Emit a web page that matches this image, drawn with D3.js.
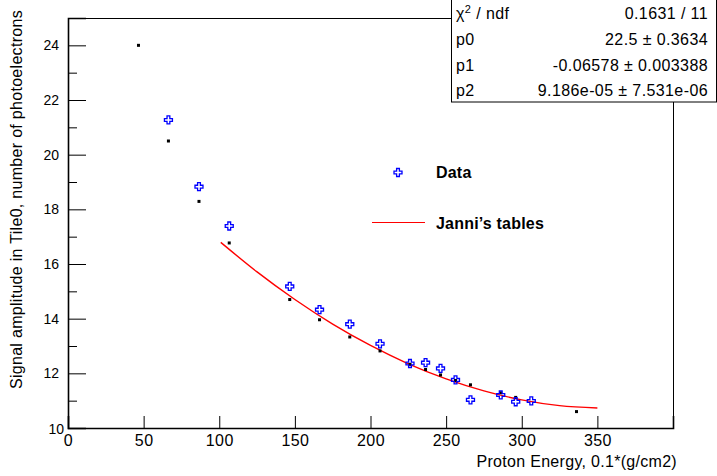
<!DOCTYPE html>
<meta charset="utf-8">
<style>
  body { margin: 0; background: #fff; }
  svg { display: block; font-family: "Liberation Sans", Arial, sans-serif; }
</style>
<svg></svg>

<script src="https://cdn.jsdelivr.net/npm/d3@7"></script>

<script>
//
// DATA
//
var energy    = [66.4, 86.6, 106.6, 146.6, 166.3, 186.3, 206.3, 226.1, 236.4, 246.3, 256.2, 266.1, 286.1, 296.0, 306.3]; // blue open crosses
var amplitude = [21.27, 18.83, 17.39, 15.18, 14.33, 13.80, 13.08, 12.36, 12.39, 12.18, 11.76, 11.03, 11.21, 10.96, 10.99];

var refEnergy    = [46.6, 66.4, 86.6, 106.6, 146.6, 166.3, 186.3, 206.3, 226.1, 236.4, 246.3, 256.2, 266.1, 286.1, 296.0, 336.2]; // small black dots
var refAmplitude = [24.00, 20.50, 18.29, 16.77, 14.70, 13.96, 13.33, 12.82, 12.33, 12.14, 11.94, 11.74, 11.58, 11.29, 11.12, 10.60];

// red fit line (Janni's tables)
var fitEnergy    = [101, 125, 150, 175, 200, 225, 250, 275, 300, 325, 350];
var fitAmplitude = [16.79, 15.71, 14.70, 13.80, 13.02, 12.35, 11.80, 11.36, 11.03, 10.82, 10.73];

var xTicks = [0, 50, 100, 150, 200, 250, 300, 350];
var yTicks = [10, 12, 14, 16, 18, 20, 22, 24];
var yMinorTicks = [11, 13, 15, 17, 19, 21, 23, 25];

// fit statistics box
var statNames  = ["\u03C7\u00B2 / ndf", "p0", "p1", "p2"];
var statValues = ["0.1631 / 11", "22.5 \u00B1 0.3634", "-0.06578 \u00B1 0.003388", "9.186e-05 \u00B1 7.531e-06"];

//
// SVG SETUP
//
var W = 717, H = 476,
    margin = {top: 18, right: 44, bottom: 48, left: 68},
    width = W - margin.left - margin.right,
    height = H - margin.top - margin.bottom;

var svg = d3.select("svg").attr("width", W).attr("height", H);
var g = svg.append("g").attr("transform", "translate(" + margin.left + "," + margin.top + ")");

var x = d3.scaleLinear().domain([0, 400]).range([0, width]);
var y = d3.scaleLinear().domain([10, 25]).range([height, 0]);

// FRAME
g.append("rect")
  .attr("x", 0.5).attr("y", 0.5)
  .attr("width", width).attr("height", height)
  .attr("fill", "none").attr("stroke", "#000").attr("stroke-width", 1);

// AXES
var xAxis = g.append("g")
  .attr("class", "axis axis--x")
  .attr("transform", "translate(0," + height + ")")
  .call(d3.axisBottom(x).tickValues(xTicks).tickSize(-12).tickPadding(4).tickFormat(d3.format("d")));

var yAxis = g.append("g")
  .attr("class", "axis axis--y")
  .call(d3.axisLeft(y).tickValues(yTicks).tickSize(-18).tickPadding(9).tickFormat(d3.format("d")));

g.append("g")
  .call(d3.axisLeft(y).tickValues(yMinorTicks).tickSize(-9).tickFormat(""))
  .call(function(s) { s.select(".domain").remove(); });

g.selectAll(".axis .domain").attr("stroke", "#000").attr("stroke-width", 1.6);
g.selectAll(".tick line").attr("stroke", "#000");
g.selectAll(".axis text")
  .attr("font-family", "Liberation Sans, Arial, sans-serif")
  .attr("fill", "#000");
xAxis.selectAll("text").attr("font-size", 16).attr("letter-spacing", 0.4).attr("dy", "0.9em");
yAxis.selectAll("text").attr("font-size", 14);

// ROOT pushes the lowest y label a bit to the right
yAxis.selectAll(".tick text").filter(function(d) { return d === 10; })
  .attr("dx", 5).attr("dy", "0.4em");

// AXIS TITLES
svg.append("text")
  .attr("x", margin.left + width + 4)
  .attr("y", 467)
  .attr("text-anchor", "end")
  .attr("font-size", 16)
  .attr("letter-spacing", 0.3)
  .text("Proton Energy, 0.1*(g/cm2)");

svg.append("text")
  .attr("transform", "translate(22,10) rotate(-90)")
  .attr("text-anchor", "end")
  .attr("font-size", 16)
  .attr("letter-spacing", 0.3)
  .text("Signal amplitude in Tile0, number of photoelectrons");

// FIT LINE
var line = d3.line()
  .curve(d3.curveNatural)
  .x(function(d) { return x(d[0]); })
  .y(function(d) { return y(d[1]); });

g.append("path")
  .datum(d3.zip(fitEnergy, fitAmplitude))
  .attr("d", line)
  .attr("fill", "none")
  .attr("stroke", "#ff0000")
  .attr("stroke-width", 1.4);

// MARKERS
// open cross (ROOT marker 28)
var crossPath = "M-1.4,-4L1.4,-4L1.4,-1.4L4,-1.4L4,1.4L1.4,1.4L1.4,4L-1.4,4L-1.4,1.4L-4,1.4L-4,-1.4L-1.4,-1.4Z";

g.selectAll(".ref")
  .data(d3.zip(refEnergy, refAmplitude))
  .enter().append("rect")
  .attr("class", "ref")
  .attr("x", function(d) { return x(d[0]) - 1.5; })
  .attr("y", function(d) { return y(d[1]) - 1.5; })
  .attr("width", 3).attr("height", 3)
  .attr("fill", "#000");

g.selectAll(".data")
  .data(d3.zip(energy, amplitude))
  .enter().append("path")
  .attr("class", "data")
  .attr("transform", function(d) { return "translate(" + x(d[0]) + "," + y(d[1]) + ")"; })
  .attr("d", crossPath)
  .attr("fill", "none")
  .attr("stroke", "#0000ff")
  .attr("stroke-width", 1.3);

// LEGEND
var legend = svg.append("g").attr("font-size", 16).attr("font-weight", "bold").attr("letter-spacing", 0.2);
legend.append("path")
  .attr("transform", "translate(398,172.5)")
  .attr("d", crossPath)
  .attr("fill", "none").attr("stroke", "#0000ff").attr("stroke-width", 1.3);
legend.append("text").attr("x", 436).attr("y", 178).text("Data");
legend.append("line")
  .attr("x1", 372).attr("x2", 425).attr("y1", 222.5).attr("y2", 222.5)
  .attr("stroke", "#ff0000").attr("stroke-width", 1.2);
legend.append("text").attr("x", 436).attr("y", 228.5).text("Janni\u2019s tables");

// STATS BOX
var stats = svg.append("g");
stats.append("rect")
  .attr("x", 451.5).attr("y", -1)
  .attr("width", 265).attr("height", 103)
  .attr("fill", "#fff").attr("stroke", "#000").attr("stroke-width", 1);

var rowY = d3.scaleLinear().domain([0, 1]).range([19, 44.8]);
statNames.forEach(function(name, i) {
  var t = stats.append("text")
    .attr("x", 456).attr("y", rowY(i))
    .attr("font-size", 16).attr("letter-spacing", 0.4);
  if (i === 0) {
    t.append("tspan").text("\u03C7");
    t.append("tspan").attr("font-size", 11).attr("dy", -6).text("2");
    t.append("tspan").attr("dy", 6).text(" / ndf");
  } else {
    t.text(name);
  }
  stats.append("text")
    .attr("x", 708).attr("y", rowY(i))
    .attr("text-anchor", "end")
    .attr("font-size", 16).attr("letter-spacing", 0.4)
    .text(statValues[i]);
});
</script>
